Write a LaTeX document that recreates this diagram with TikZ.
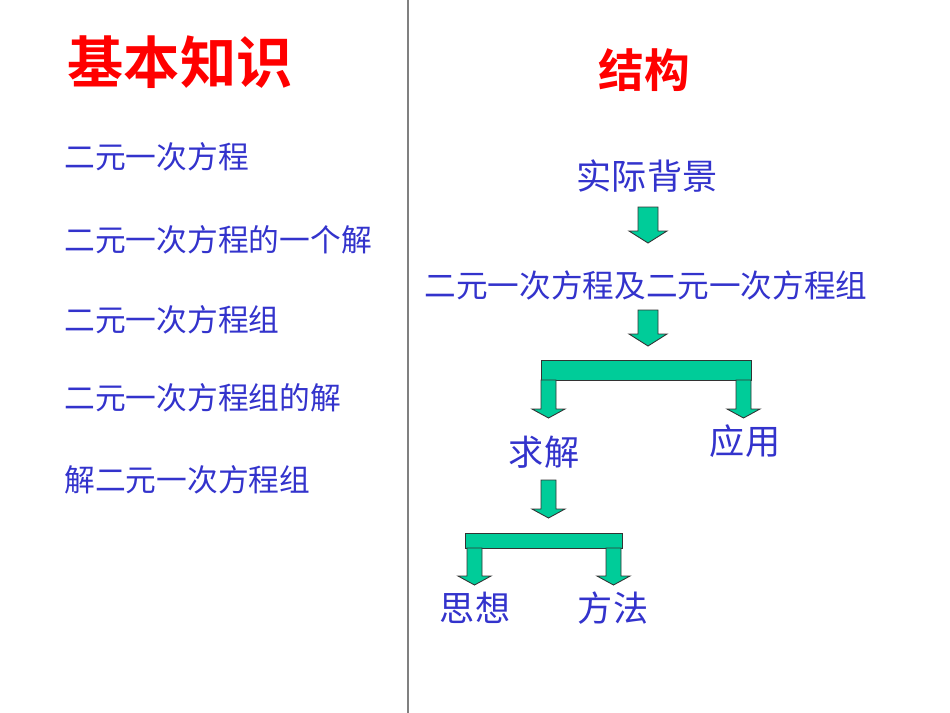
\documentclass[tikz,border=0pt]{standalone}
\usepackage{fontspec}
\newfontfamily\cjk{Noto Sans CJK SC}
\newfontfamily\cjkb{Noto Sans CJK SC Bold}
\begin{document}
\begin{tikzpicture}[x=0.02cm,y=-0.02cm,
  red/.style={text=red,font=\cjkb\fontsize{32}{36}\selectfont,inner sep=0},
  blu/.style={text={rgb,255:red,51;green,51;blue,204},font=\cjk\fontsize{17.5}{20}\selectfont,inner sep=0,anchor=west},
  blr/.style={text={rgb,255:red,51;green,51;blue,204},font=\cjk\fontsize{20}{24}\selectfont,inner sep=0},
  gr/.style={fill={rgb,255:red,0;green,204;blue,153},draw=black!80,line width=0.5pt}]
\useasboundingbox (0,0) rectangle (950,713);
\draw[gray,line width=0.8pt] (408,0) -- (408,713);
\node[red] (h1) at (180,62) {基本知识};
\node[red,font=\cjkb\fontsize{26}{30}\selectfont] (h2) at (644,70) {结构};
\node[blu] (l1) at (64,157) {二元一次方程};
\node[blu] (l2) at (64,240) {二元一次方程的一个解};
\node[blu] (l3) at (64,320) {二元一次方程组};
\node[blu] (l4) at (64,398) {二元一次方程组的解};
\node[blu] (l5) at (64,480) {解二元一次方程组};
\node[blr] (a) at (647,176) {实际背景};
\node[blu,anchor=center,font=\cjk\fontsize{18}{20}\selectfont] (b) at (646,285) {二元一次方程及二元一次方程组};
\node[blr] (c) at (544,452) {求解};
\node[blr] (d) at (745,441) {应用};
\node[blr] (e) at (475,608) {思想};
\node[blr] (f) at (613,608) {方法};
% arrows: shaft left x, shaft right x, top y, neck y, tip y
\newcommand\dnarr[5]{\draw[gr] (#1,#3) -- (#2,#3) -- (#2,#4) -- ({#2+9},#4) -- ({(#1+#2)/2},#5) -- ({#1-9},#4) -- (#1,#4) -- cycle;}
\dnarr{638}{658}{207}{231}{243}
\dnarr{638}{658}{310}{334}{346}
\draw[gr] (541,360) rectangle (751,380);
\dnarr{541}{556}{380}{409}{418}
\dnarr{736}{751}{380}{409}{418}
\dnarr{541}{556}{480}{509}{518}
\draw[gr] (465,533) rectangle (622,548);
\dnarr{467}{482}{548}{576}{585}
\dnarr{606}{621}{548}{576}{585}
\end{tikzpicture}
\end{document}
